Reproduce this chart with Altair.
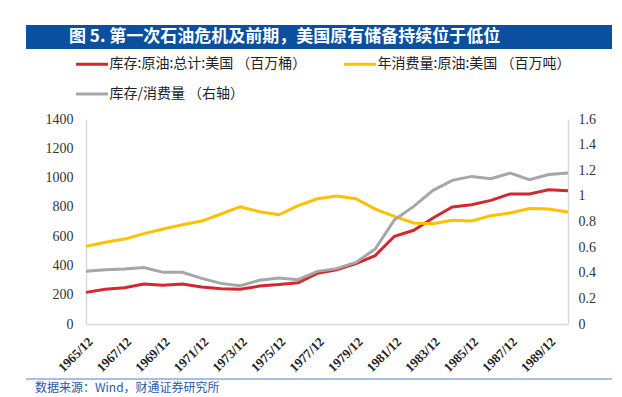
import altair as alt
import pandas as pd

years = ["1965/12", "1966/12", "1967/12", "1968/12", "1969/12", "1970/12", "1971/12",
         "1972/12", "1973/12", "1974/12", "1975/12", "1976/12", "1977/12", "1978/12",
         "1979/12", "1980/12", "1981/12", "1982/12", "1983/12", "1984/12", "1985/12",
         "1986/12", "1987/12", "1988/12", "1989/12", "1990/12"]
tick_labels = ["1965/12", "1967/12", "1969/12", "1971/12", "1973/12", "1975/12", "1977/12",
               "1979/12", "1981/12", "1983/12", "1985/12", "1987/12", "1989/12"]

stock = [216, 237, 248, 273, 264, 273, 253, 241, 237, 259, 269, 282, 346, 371,
         412, 467, 599, 640, 724, 799, 815, 844, 888, 888, 917, 910]
consumption = [530, 558, 580, 617, 649, 678, 703, 751, 801, 767, 746, 808, 855, 874,
               856, 785, 735, 690, 685, 708, 703, 740, 758, 788, 785, 765]
ratio = [0.411, 0.424, 0.429, 0.440, 0.403, 0.403, 0.356, 0.317, 0.299, 0.341, 0.359,
         0.346, 0.411, 0.432, 0.481, 0.585, 0.814, 0.918, 1.043, 1.121, 1.152, 1.134,
         1.178, 1.126, 1.166, 1.178]

series_names = ["库存:原油:总计:美国 （百万桶）", "年消费量:原油:美国 （百万吨）", "库存/消费量 （右轴）"]
series_colors = ["#d2282e", "#ffc000", "#a6a6a6"]
left_ticks = [0, 200, 400, 600, 800, 1000, 1200, 1400]
right_ticks = [0, 0.2, 0.4, 0.6, 0.8, 1.0, 1.2, 1.4, 1.6]

title_text = "图 5. 第一次石油危机及前期，美国原有储备持续位于低位"
source_text = "数据来源：Wind，财通证券研究所"

SERIF = "Liberation Serif"
CJK = "Noto Sans CJK SC"

df_left = pd.DataFrame({
    "date": years * 2,
    "value": stock + consumption,
    "series": [series_names[0]] * len(years) + [series_names[1]] * len(years),
})
df_right = pd.DataFrame({"date": years, "ratio": ratio, "series": [series_names[2]] * len(years)})

W, H = 482, 205

x_enc = alt.X("date:O", sort=years, title=None,
              scale=alt.Scale(type="point", padding=0),
              axis=alt.Axis(values=tick_labels, labelAngle=-45, labelAlign="right",
                            labelBaseline="top", labelPadding=11, ticks=False,
                            domainColor="#d9d9d9", domainWidth=1.5,
                            labelFont=SERIF, labelFontSize=13,
                            labelFontWeight="bold", labelColor="#222222"))

color_enc = alt.Color("series:N", scale=alt.Scale(domain=series_names, range=series_colors),
                      legend=alt.Legend(orient="none", direction="horizontal", legendX=-3.5,
                                        legendY=-64.5, columns=2,
                                        title=None, symbolType="M-2,0H2", symbolSize=256,
                                        symbolStrokeWidth=3, labelFont=CJK,
                                        labelFontSize=14, labelColor="#222222", labelLimit=400,
                                        labelOffset=8, columnPadding=31, rowPadding=13, padding=0))

left = alt.Chart(df_left).mark_line(strokeWidth=3).encode(
    x=x_enc,
    y=alt.Y("value:Q", title=None, scale=alt.Scale(domain=[0, 1400], nice=False),
            axis=alt.Axis(orient="left", values=left_ticks, ticks=False, grid=False, format="d",
                          domainColor="#d9d9d9", domainWidth=1.5, labelPadding=13,
                          labelFont=SERIF, labelFontSize=14, labelColor="#333333")),
    color=color_enc,
)

right = alt.Chart(df_right).mark_line(strokeWidth=3).encode(
    x=x_enc,
    y=alt.Y("ratio:Q", title=None, scale=alt.Scale(domain=[0, 1.6], nice=False),
            axis=alt.Axis(orient="right", values=right_ticks, ticks=False, grid=False,
                          format=".1~f", domainColor="#d9d9d9", domainWidth=1.5, labelPadding=10,
                          labelFont=SERIF, labelFontSize=14, labelColor="#333333")),
    color=color_enc,
)

deco = pd.DataFrame({"t": [title_text], "s": [source_text]})
title_bar = alt.Chart(deco).mark_rect(color="#0b4f9f").encode(
    x=alt.value(-60), x2=alt.value(526), y=alt.value(-94), y2=alt.value(-70))
title_txt = alt.Chart(deco).mark_text(align="left", baseline="middle", fontSize=17, fontWeight="bold",
                                      color="white", font=CJK).encode(
    x=alt.value(-17), y=alt.value(-82), text="t:N")
bottom_rule = alt.Chart(deco).mark_rule(color="#8eaad6", strokeWidth=1.5).encode(
    x=alt.value(-60), x2=alt.value(526), y=alt.value(260))
source_txt = alt.Chart(deco).mark_text(align="left", baseline="top", fontSize=12,
                                       color="#1f5aa6", font=CJK).encode(
    x=alt.value(-51), y=alt.value(264), text="s:N")

lines = alt.layer(left, right).resolve_scale(y="independent")

chart = alt.layer(title_bar, title_txt, bottom_rule, source_txt, lines).properties(
    width=W, height=H,
    autosize=alt.AutoSizeParams(type="none"),
    padding={"left": 78, "top": 111, "right": 46, "bottom": 73},
    background="white",
).configure_view(stroke=None)

chart.save("out.html", embed_options={"renderer": "svg", "actions": False})
